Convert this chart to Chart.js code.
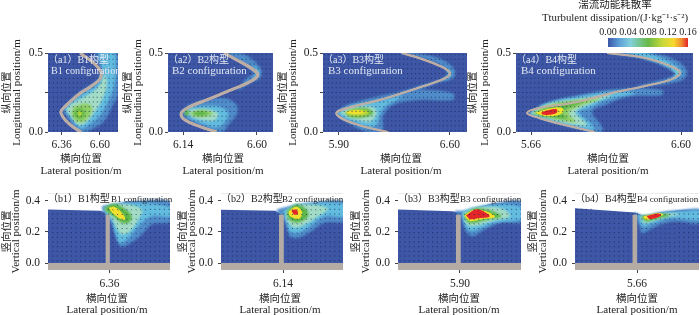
<!DOCTYPE html>
<html><head><meta charset="utf-8">
<script src="https://cdn.jsdelivr.net/npm/chart.js@4/dist/chart.umd.js"></script>
<style>
html,body{margin:0;padding:0;background:#fff;width:700px;height:315px;overflow:hidden}
canvas{position:absolute;filter:blur(0.35px)}
</style></head><body>
<script>
/* ---------- weir plan-form curves (lateral, longitudinal) ---------- */
const a1Curve=[[6.476,.5],[6.523,.466],[6.571,.428],[6.603,.388],[6.609,.367],[6.599,.333],[6.540,.287],[6.476,.245],[6.402,.182],[6.360,.139],[6.356,.118],[6.382,.076],[6.434,.030],[6.483,0]];
const a2Curve=[[6.395,.5],[6.474,.456],[6.556,.409],[6.602,.371],[6.598,.346],[6.536,.308],[6.412,.255],[6.287,.203],[6.173,.156],[6.128,.118],[6.152,.076],[6.246,.034],[6.349,0]];
const a3Curve=[[6.295,.5],[6.411,.466],[6.537,.418],[6.60,.375],[6.568,.340],[6.411,.283],[6.159,.203],[5.969,.156],[5.885,.122],[5.927,.080],[6.075,.030],[6.211,0]];
const a4Curve=[[6.136,.5],[6.374,.468],[6.543,.413],[6.594,.375],[6.543,.335],[6.374,.291],[6.168,.247],[5.917,.184],[5.710,.152],[5.635,.120],[5.710,.089],[5.873,.044],[6.061,0]];

/* ---------- dissipation contours, plan views ---------- */
const a1L1=[[6.567,.5],[6.715,.5],[6.715,.245],[6.677,.160],[6.624,.065],[6.561,.023],[6.519,0],[6.466,0],[6.382,.107],[6.371,.139],[6.392,.181],[6.487,.266],[6.572,.319],[6.603,.382],[6.582,.456],[6.567,.5]];
const a1L2=[[6.593,.5],[6.688,.5],[6.698,.392],[6.688,.287],[6.645,.181],[6.593,.097],[6.529,.044],[6.477,.023],[6.403,.107],[6.382,.139],[6.403,.171],[6.498,.245],[6.582,.297],[6.618,.371],[6.603,.445],[6.593,.5]];
const a1L3=[[6.631,.371],[6.645,.308],[6.614,.203],[6.561,.118],[6.519,.065],[6.466,.044],[6.413,.107],[6.392,.139],[6.413,.171],[6.508,.224],[6.593,.287],[6.631,.371]];
const a1L4=[[6.434,.160],[6.508,.181],[6.550,.160],[6.540,.107],[6.498,.065],[6.455,.065],[6.424,.107],[6.434,.160]];
const a1L5=[[6.445,.139],[6.477,.150],[6.504,.129],[6.498,.097],[6.466,.086],[6.441,.107],[6.445,.139]];
const a1L6=[[6.460,.129],[6.483,.129],[6.487,.107],[6.466,.101],[6.460,.129]];

const a2Top1=[[6.390,.5],[6.494,.5],[6.577,.456],[6.628,.392],[6.618,.340],[6.556,.308],[6.483,.266],[6.535,.340],[6.577,.371],[6.504,.435],[6.390,.5]];
const a2Top2=[[6.570,.424],[6.614,.388],[6.603,.350],[6.570,.340],[6.591,.367],[6.570,.424]];
const a2L1=[[6.132,.129],[6.173,.171],[6.276,.203],[6.401,.213],[6.473,.171],[6.473,.107],[6.421,.044],[6.390,0],[6.328,0],[6.214,.055],[6.152,.086],[6.132,.129]];
const a2L2=[[6.148,.129],[6.183,.156],[6.276,.164],[6.370,.160],[6.421,.118],[6.401,.065],[6.349,.029],[6.266,.051],[6.183,.086],[6.148,.129]];
const a2L3=[[6.156,.129],[6.194,.143],[6.297,.143],[6.359,.118],[6.339,.076],[6.276,.072],[6.194,.097],[6.156,.129]];
const a2L4=[[6.183,.122],[6.256,.139],[6.328,.118],[6.276,.097],[6.204,.101],[6.183,.122]];
const a2L5=[[6.204,.122],[6.256,.131],[6.297,.116],[6.245,.105],[6.210,.110],[6.204,.122]];
const a2Spot=[[6.152,.139],[6.173,.139],[6.173,.107],[6.152,.107],[6.152,.139]];

const a3Top1=[[6.263,.5],[6.389,.5],[6.557,.456],[6.631,.392],[6.620,.340],[6.515,.308],[6.410,.266],[6.274,.245],[6.389,.287],[6.526,.329],[6.589,.371],[6.515,.435],[6.389,.477],[6.263,.5]];
const a3Top2=[[6.557,.414],[6.610,.375],[6.589,.340],[6.557,.333],[6.589,.367],[6.557,.414]];
const a3L1=[[5.881,.118],[5.927,.160],[6.053,.203],[6.242,.245],[6.410,.266],[6.620,.245],[6.620,.203],[6.410,.203],[6.242,.171],[6.179,.097],[6.179,.023],[6.148,0],[6.074,0],[5.948,.065],[5.881,.118]];
const a3L2=[[5.889,.118],[5.938,.156],[6.053,.186],[6.179,.203],[6.305,.234],[6.263,.203],[6.190,.160],[6.158,.107],[6.137,.044],[6.095,.029],[5.990,.065],[5.927,.086],[5.889,.118]];
const a3L3=[[5.910,.122],[5.959,.150],[6.074,.164],[6.127,.150],[6.137,.107],[6.095,.065],[6.011,.076],[5.948,.097],[5.910,.122]];
const a3L4=[[5.938,.122],[5.980,.143],[6.074,.150],[6.116,.122],[6.074,.097],[5.980,.093],[5.938,.122]];
const a3L5=[[5.944,.127],[5.990,.139],[6.064,.139],[6.095,.122],[6.053,.103],[5.969,.105],[5.944,.127]];
const a3L6=[[5.948,.129],[6.001,.137],[6.053,.133],[6.049,.118],[5.990,.114],[5.952,.118],[5.948,.129]];

const a4Top1=[[6.137,.5],[6.419,.5],[6.586,.445],[6.638,.382],[6.607,.329],[6.461,.297],[6.314,.287],[6.471,.329],[6.565,.361],[6.502,.414],[6.335,.466],[6.137,.5]];
const a4Top2=[[6.252,.5],[6.377,.5],[6.544,.435],[6.607,.376],[6.565,.340],[6.502,.325],[6.565,.367],[6.482,.424],[6.356,.473],[6.252,.5]];
const a4Top3=[[6.523,.409],[6.586,.376],[6.555,.350],[6.576,.376],[6.523,.409]];
const a4L1=[[5.646,.118],[5.750,.181],[5.959,.234],[6.231,.276],[6.482,.266],[6.482,.234],[6.273,.224],[6.126,.171],[6.043,.129],[6.105,.034],[6.105,0],[6.022,0],[5.792,.065],[5.646,.118]];
const a4L2=[[5.646,.118],[5.750,.181],[5.959,.224],[6.168,.255],[6.314,.245],[6.126,.203],[6.022,.150],[5.959,.129],[6.043,.044],[6.053,.013],[5.959,.029],[5.750,.076],[5.646,.118]];
const a4L3=[[5.656,.118],[5.771,.177],[5.980,.213],[6.168,.234],[6.064,.192],[5.949,.139],[5.938,.118],[6.011,.044],[5.938,.044],[5.771,.086],[5.656,.118]];
const a4L4=[[5.666,.118],[5.771,.171],[5.959,.203],[6.095,.213],[5.949,.156],[5.896,.118],[5.938,.065],[5.855,.072],[5.750,.097],[5.666,.118]];
const a4L5=[[5.687,.118],[5.781,.160],[5.938,.192],[5.980,.186],[5.886,.150],[5.855,.118],[5.886,.086],[5.802,.091],[5.729,.101],[5.687,.118]];
const a4L6=[[5.687,.122],[5.750,.143],[5.844,.156],[5.865,.135],[5.835,.107],[5.750,.101],[5.687,.122]];
const a4L7=[[5.725,.124],[5.771,.139],[5.823,.143],[5.817,.118],[5.760,.107],[5.729,.112],[5.725,.124]];

/* ---------- dissipation contours, sections ---------- */
const b1Water=[[5.96,-.01],[5.96,.344],[6.30,.336],[6.335,.325],[6.36,.36],[6.47,.395],[6.76,.395],[6.76,-.01],[5.96,-.01]];
const b1L1=[[6.310,.366],[6.482,.394],[6.76,.394],[6.76,.269],[6.632,.248],[6.568,.183],[6.482,.119],[6.428,.108],[6.396,.183],[6.363,.280],[6.320,.323],[6.310,.366]];
const b1L2=[[6.320,.359],[6.503,.387],[6.76,.355],[6.76,.301],[6.632,.301],[6.546,.237],[6.482,.162],[6.428,.129],[6.400,.183],[6.374,.269],[6.331,.329],[6.320,.359]];
const b1L3=[[6.331,.355],[6.439,.381],[6.568,.344],[6.546,.280],[6.492,.204],[6.439,.183],[6.406,.226],[6.374,.290],[6.342,.323],[6.331,.355]];
const b1L4=[[6.327,.355],[6.385,.381],[6.449,.355],[6.503,.301],[6.482,.258],[6.439,.258],[6.385,.301],[6.342,.329],[6.327,.355]];
const b1L5=[[6.353,.355],[6.396,.359],[6.449,.312],[6.460,.280],[6.428,.284],[6.385,.316],[6.353,.355]];

const b2Water=[[5.73,-.01],[5.73,.342],[6.09,.336],[6.13,.315],[6.165,.34],[6.237,.38],[6.54,.394],[6.54,-.01],[5.73,-.01]];
const b2L1=[[6.097,.344],[6.237,.376],[6.54,.394],[6.54,.269],[6.409,.258],[6.323,.204],[6.237,.161],[6.183,.172],[6.162,.237],[6.140,.290],[6.108,.323],[6.097,.344]];
const b2L2=[[6.140,.333],[6.226,.376],[6.54,.376],[6.54,.301],[6.409,.301],[6.312,.237],[6.237,.194],[6.183,.204],[6.162,.258],[6.140,.333]];
const b2L3=[[6.162,.333],[6.237,.376],[6.431,.351],[6.366,.301],[6.302,.258],[6.226,.226],[6.183,.248],[6.162,.290],[6.162,.333]];
const b2L4=[[6.168,.338],[6.226,.376],[6.291,.344],[6.302,.301],[6.248,.263],[6.194,.269],[6.168,.301],[6.168,.338]];
const b2L5=[[6.177,.333],[6.226,.361],[6.263,.329],[6.248,.286],[6.205,.290],[6.179,.308],[6.177,.333]];
const b2L6=[[6.194,.338],[6.226,.342],[6.237,.316],[6.211,.312],[6.194,.338]];

const b3Water=[[5.49,-.01],[5.49,.344],[5.85,.332],[5.90,.325],[5.95,.335],[6.02,.36],[6.105,.381],[6.30,.394],[6.30,-.01],[5.49,-.01]];
const b3L1=[[5.868,.338],[5.943,.338],[6.105,.381],[6.30,.394],[6.30,.265],[6.169,.258],[6.062,.215],[5.986,.172],[5.943,.194],[5.922,.248],[5.911,.290],[5.879,.316],[5.868,.338]];
const b3L2=[[5.911,.329],[5.986,.359],[6.191,.376],[6.30,.351],[6.30,.286],[6.126,.258],[6.040,.226],[5.976,.204],[5.943,.226],[5.922,.269],[5.911,.329]];
const b3L3=[[5.922,.316],[5.997,.355],[6.169,.351],[6.223,.301],[6.105,.269],[6.019,.243],[5.965,.237],[5.937,.258],[5.922,.316]];
const b3L4=[[5.928,.312],[5.997,.351],[6.094,.338],[6.169,.301],[6.083,.280],[5.997,.258],[5.958,.258],[5.937,.280],[5.928,.312]];
const b3L5=[[5.928,.308],[5.997,.344],[6.094,.323],[6.126,.295],[6.040,.280],[5.965,.269],[5.943,.286],[5.928,.308]];
const b3L6=[[5.939,.305],[6.008,.345],[6.085,.312],[6.089,.296],[6.019,.288],[5.965,.282],[5.939,.305]];

const b4Water=[[5.25,-.01],[5.25,.353],[5.60,.328],[5.65,.325],[5.70,.302],[5.808,.325],[5.958,.342],[6.07,.342],[6.07,-.01],[5.25,-.01]];
const b4L1=[[5.646,.327],[5.700,.306],[5.808,.327],[5.958,.342],[6.07,.342],[6.07,.256],[5.915,.267],[5.808,.246],[5.722,.202],[5.689,.192],[5.674,.246],[5.646,.299],[5.646,.327]];
const b4L2=[[5.668,.314],[5.711,.299],[5.808,.321],[5.958,.332],[6.07,.332],[6.07,.278],[5.872,.288],[5.765,.256],[5.711,.235],[5.683,.246],[5.668,.314]];
const b4L3=[[5.683,.306],[5.722,.299],[5.818,.316],[5.937,.314],[5.851,.295],[5.754,.267],[5.711,.256],[5.689,.278],[5.683,.306]];
const b4L4=[[5.689,.306],[5.722,.306],[5.829,.316],[5.872,.306],[5.786,.284],[5.722,.267],[5.696,.284],[5.689,.306]];
const b4L5=[[5.700,.299],[5.797,.321],[5.829,.310],[5.754,.284],[5.717,.278],[5.700,.299]];
const b4L6=[[5.722,.302],[5.797,.318],[5.815,.304],[5.743,.282],[5.722,.302]];

/* ---------- velocity vector sampling stations ---------- */
const vecXsA=[5.58,5.605,5.63,5.655,5.68,5.705,5.73,5.755,5.78,5.805,5.83,5.855,5.88,5.905,5.93,5.955,5.98,6.005,6.03,6.055,6.08,6.105,6.13,6.155,6.18,6.205,6.23,6.255,6.28,6.305,6.33,6.355,6.38,6.405,6.43,6.455,6.48,6.505,6.53,6.555,6.58,6.605,6.63,6.655,6.68,6.705];
const vecYsA=[.01,.04,.07,.10,.13,.16,.19,.22,.25,.28,.31,.34,.37,.40,.43,.46,.49];
const vecXsB=[5.27,5.30,5.33,5.36,5.39,5.42,5.45,5.48,5.51,5.54,5.57,5.60,5.63,5.66,5.69,5.72,5.75,5.78,5.81,5.84,5.87,5.90,5.93,5.96,5.99,6.02,6.05,6.08,6.11,6.14,6.17,6.20,6.23,6.26,6.29,6.32,6.35,6.38,6.41,6.44,6.47,6.50,6.53,6.56,6.59,6.62,6.65,6.68,6.71,6.74];
const vecYsB=[.015,.045,.075,.105,.135,.165,.195,.225,.255,.285,.315,.345,.375];

/* ---------- axes and labels ---------- */
const aYTicks=[0,.25,.5];
const aYLabelled=[0,.5];
const bYTicks=[0,.2,.4];
const barTicks=[0,.04,.08,.12,.16];
const yTitleA=['纵向位置','Longitudinal position/m'];
const yTitleB=['竖向位置','Vertical position/m'];
const xTitle=['横向位置','Lateral position/m'];
const barTitle=['湍流动能耗散率','Tturbulent dissipation/(J·kg⁻¹·s⁻²)'];
const barRange=[[0,.16]];

/* ---------- styles ---------- */
const SERIF="'Liberation Serif','Noto Sans CJK SC',serif";
const INK='#222';
const BG='#3d57a6',BLUE='#4f8cc9',CYAN='#62bcdf',PALE='#a3dcc6',LIME='#8fcf68',GREEN='#5cb548',OLIVE='#c4da3a',YELLOW='#f2e02e',RED='#e2262a';
const STONE='#b5aba5';

const panelsA=[
 {label:'（a1）B1构型',sub:'B1 configuration',subDx:3,subSize:10.2,cLeft:0,pLeft:48,pRight:118,xMin:6.274,xMax:6.714,xT:[6.36,6.60],curve:a1Curve,yT:[7,17],xC:81,cw:[3,2],
  heat:[[a1L1,BLUE],[a1L2,CYAN],[a1L3,PALE],[a1L4,LIME],[a1L5,GREEN],[a1L6,OLIVE]]},
 {label:'（a2）B2构型',sub:'B2 configuration',subDx:4,subSize:11,cLeft:120,pLeft:168,pRight:273,xMin:6.046,xMax:6.70,xT:[6.14,6.60],curve:a2Curve,yT:[128,138],xC:223,cw:[3,2],
  heat:[[a2Top1,BLUE],[a2Top2,CYAN],[a2L1,BLUE],[a2L2,CYAN],[a2L3,PALE],[a2L4,LIME],[a2L5,GREEN],[a2Spot,GREEN]]},
 {label:'（a3）B3构型',sub:'B3 configuration',subDx:5,subSize:11,cLeft:275,pLeft:323,pRight:467,xMin:5.80,xMax:6.708,xT:[5.90,6.60],curve:a3Curve,yT:[283,293],xC:401,cw:[2.2,1.4],
  heat:[[a3Top1,BLUE],[a3Top2,CYAN],[a3L1,BLUE],[a3L2,CYAN],[a3L3,PALE],[a3L4,GREEN],[a3L5,OLIVE],[a3L6,YELLOW]]},
 {label:'（a4）B4构型',sub:'B4 configuration',subDx:5,subSize:11,cLeft:465,pLeft:516,pRight:693,xMin:5.566,xMax:6.675,xT:[5.66,6.60],curve:a4Curve,yT:[473,485],xC:608,cw:[2,1.3],
  heat:[[a4Top1,BLUE],[a4Top2,CYAN],[a4Top3,PALE],[a4L1,BLUE],[a4L2,CYAN],[a4L3,PALE],[a4L4,LIME],[a4L5,GREEN],[a4L6,YELLOW],[a4L7,RED]]}
];
const panelsB=[
 {label:'（b1）B1构型',sub:'B1 configuration',subDx:63,cLeft:0,pLeft:48,pRight:170,xMin:5.963,xMax:6.75,xT:[6.36],wall:[6.335,6.362],water:b1Water,yT:[7,16],xC:107,
  heat:[[b1L1,BLUE],[b1L2,CYAN],[b1L3,PALE],[b1L4,GREEN],[b1L5,YELLOW]]},
 {label:'（b2）B2构型',sub:'B2 configuration',subDx:61,cLeft:175,pLeft:221,pRight:343,xMin:5.74,xMax:6.527,xT:[6.14],wall:[6.114,6.145],water:b2Water,yT:[183,192],xC:280,
  heat:[[b2L1,BLUE],[b2L2,CYAN],[b2L3,PALE],[b2L4,GREEN],[b2L5,YELLOW],[b2L6,RED]]},
 {label:'（b3）B3构型',sub:'B3 configuration',subDx:62,cLeft:350,pLeft:398,pRight:521,xMin:5.50,xMax:6.294,xT:[5.90],wall:[5.874,5.905],water:b3Water,yT:[356,366],xC:459,
  heat:[[b3L1,BLUE],[b3L2,CYAN],[b3L3,PALE],[b3L4,GREEN],[b3L5,YELLOW],[b3L6,RED]]},
 {label:'（b4）B4构型',sub:'B4 configuration',subDx:62,cLeft:525,pLeft:575,pRight:699,xMin:5.26,xMax:6.06,xT:[5.66],wall:[5.631,5.661],water:b4Water,yT:[533,543],xC:637,
  heat:[[b4L1,BLUE],[b4L2,CYAN],[b4L3,PALE],[b4L4,GREEN],[b4L5,YELLOW],[b4L6,RED]]}
];

/* ---------- helpers ---------- */
const pts=a=>a.map(([x,y])=>({x,y}));
function blurOf(c){return c===RED||c===YELLOW?.55:1.3;}
function poly(a,color,opts){return Object.assign({data:pts(a),showLine:true,fill:'shape',backgroundColor:color,borderColor:'transparent',borderWidth:0,pointRadius:0,tension:.35},opts||{});}
function inside(p,[x,y]){let c=false;for(let i=0,j=p.length-1;i<p.length;j=i++){const[xi,yi]=p[i],[xj,yj]=p[j];if((yi>y)!==(yj>y)&&x<(xj-xi)*(y-yi)/(yj-yi)+xi)c=!c;}return c;}
const cross=(xs,ys,keep)=>{const o=[];for(const y of ys)for(const x of xs)if(keep(x,y))o.push({x,y});return o;};

const filterFor=d=>d&&d.heat?'blur('+d.heat+'px)':'none';
const heatPlugin={id:'heatBlur',
 beforeDatasetsDraw(c){const d=c.data.datasets;c.ctx.filter=filterFor(d[d.length-1]);},
 afterDatasetDraw(c,{index}){c.ctx.filter=filterFor(c.data.datasets[index-1]);},
 afterDatasetsDraw(c){c.ctx.filter='none';}};
const textPlugin={id:'panelText',afterDraw(c){const t=c.options.plugins.panelText.items||[];const x=c.ctx;
  for(const i of t){x.save();x.textBaseline='middle';x.font=i.size+'px '+SERIF;x.fillStyle=i.color;x.textAlign=i.align||'left';x.translate(c.chartArea.left+i.dx,c.chartArea.top+i.dy);if(i.rot)x.rotate(-Math.PI/2);x.fillText(i.text,0,0);x.restore();}}};

function mount(left,top,w,h){const c=document.createElement('canvas');c.width=w;c.height=h;c.style.left=left+'px';c.style.top=top+'px';c.style.width=w+'px';c.style.height=h+'px';document.body.appendChild(c);return c;}

function axisX(p,h,pad){return{type:'linear',min:p.xMin,max:p.xMax,afterBuildTicks:s=>{s.ticks=p.xT.map(v=>({value:v}));},
  ticks:{color:INK,font:{family:SERIF,size:11.5},padding:pad,maxRotation:0,autoSkip:false,callback:v=>v.toFixed(2)},
  grid:{drawOnChartArea:false,drawTicks:true,tickLength:3,color:'#444'},border:{display:false},afterFit:s=>{s.height=h;}};}
function axisY(p,min,max,tks,fmt,pad){return{type:'linear',min,max,afterBuildTicks:s=>{s.ticks=tks.map(v=>({value:v}));},
  ticks:{color:INK,font:{family:SERIF,size:11.5},padding:pad,autoSkip:false,callback:fmt},
  grid:{drawOnChartArea:false,drawTicks:true,tickLength:3,color:'#444'},border:{display:false},afterFit:s=>{s.width=p.pLeft-p.cLeft;}};}

function axisTexts(p,title,pTop,pBot,xLines){
 const mid=(pBot-pTop)/2;
 return[
  {text:title[0],dx:p.yT[0]-p.pLeft,dy:mid,size:10.5,color:INK,align:'center',rot:true},
  {text:title[1],dx:p.yT[1]-p.pLeft,dy:mid,size:11,color:INK,align:'center',rot:true},
  {text:xTitle[0],dx:p.xC-p.pLeft,dy:xLines[0]-pTop,size:10.5,color:INK,align:'center'},
  {text:xTitle[1],dx:p.xC-p.pLeft,dy:xLines[1]-pTop,size:11,color:INK,align:'center'}
 ];
}

function build(p,datasets,yAxis,top,bottom,pTop,pBot,xPad,items){
 const margin=8,w=p.pRight-p.cLeft+margin,h=bottom-top;
 const canvas=mount(p.cLeft,top,w,h);
 new Chart(canvas,{type:'scatter',data:{datasets:datasets.reverse()},plugins:[heatPlugin,textPlugin],options:{
  responsive:false,animation:false,devicePixelRatio:1,
  layout:{autoPadding:false,padding:{top:pTop-top,right:margin,left:0,bottom:0}},
  plugins:{legend:{display:false},tooltip:{enabled:false},panelText:{items}},
  elements:{line:{capBezierPoints:false}},
  scales:{x:axisX(p,bottom-pBot,xPad),y:yAxis}
 }});
}

/* ---------- plan views ---------- */
for(const p of panelsA){
 const ds=[];
 ds.push(poly([[p.xMin,0],[p.xMin,.5],[p.xMax,.5],[p.xMax,0],[p.xMin,0]],BG,{tension:0}));
 for(const[a,c]of p.heat)ds.push(poly(a,c,{heat:blurOf(c)}));
 ds.push({data:cross(vecXsA,vecYsA,()=>true),pointStyle:'dash',pointRadius:1.1,pointBorderWidth:.9,borderColor:'rgba(22,28,70,.75)',backgroundColor:'rgba(22,28,70,.75)'});
 ds.push({data:pts(p.curve),showLine:true,borderColor:'#d6b09c',borderWidth:p.cw[0],pointRadius:0,tension:.4,fill:false});
 ds.push({data:pts(p.curve),showLine:true,borderColor:'#b7aea8',borderWidth:p.cw[1],pointRadius:0,tension:.4,fill:false});
 build(p,ds,axisY(p,0,.5,aYTicks,v=>aYLabelled.includes(v)?v.toFixed(1):'',2),30,180,53,132,3,
  [{text:p.label,dx:0,dy:7,size:10,color:'#e4e9f2'},{text:p.sub,dx:p.subDx,dy:18,size:p.subSize,color:'#e4e9f2'},...axisTexts(p,yTitleA,53,132,[159,171])]);
}

/* ---------- sections ---------- */
for(const p of panelsB){
 const ds=[];
 ds.push({data:pts([[p.xMin,.45],[p.xMax,.45]]),showLine:true,borderColor:'#d9d9d9',borderWidth:1,pointRadius:0});
 ds.push(poly(p.water,BG,{tension:0}));
 for(const[a,c]of p.heat)ds.push(poly(a,c,{heat:blurOf(c)}));
 ds.push({data:cross(vecXsB,vecYsB,(x,y)=>inside(p.water,[x,y])&&!(x>p.wall[0]&&x<p.wall[1]&&y<.31)),pointStyle:'dash',pointRadius:1.1,pointBorderWidth:.9,
   pointRotation:c=>{const r=c.raw;return r&&r.x>p.wall[1]&&r.x<p.wall[1]+.25&&r.y>.12?65:0;},borderColor:'rgba(22,28,70,.8)',backgroundColor:'rgba(22,28,70,.8)'});
 ds.push(poly([[p.xMin,-.045],[p.xMin,0],[p.xMax,0],[p.xMax,-.045],[p.xMin,-.045]],STONE,{tension:0}));
 ds.push(poly([[p.wall[0],0],[p.wall[0],.31],[p.wall[1],.31],[p.wall[1],0],[p.wall[0],0]],STONE,{tension:0}));
 build(p,ds,axisY(p,-.045,.45,bYTicks,v=>v.toFixed(1),5),175,315,193,270,4,
  [{text:p.label,dx:0,dy:6,size:10,color:INK},{text:p.sub,dx:p.subDx,dy:7,size:9,color:INK},...axisTexts(p,yTitleB,193,270,[299,310])]);
}

/* ---------- colour bar ---------- */
{
 const canvas=mount(530,0,170,50);
 new Chart(canvas,{type:'bar',data:{labels:[''],datasets:[{data:barRange,barPercentage:1,categoryPercentage:1,borderSkipped:false,
   backgroundColor:c=>{const a=c.chart.chartArea;if(!a)return BG;const g=c.chart.ctx.createLinearGradient(a.left,0,a.right,0);
     [[0,'#3a55a5'],[.14,'#5d9fd8'],[.28,'#82d0dc'],[.5,'#69b848'],[.68,'#c6d93a'],[.82,'#f6d92e'],[.92,'#f08a30'],[1,'#e2262a']].forEach(s=>g.addColorStop(s[0],s[1]));return g;}}]},
  plugins:[textPlugin],options:{indexAxis:'y',responsive:false,animation:false,devicePixelRatio:1,
  layout:{autoPadding:false,padding:{left:78,right:12,top:0,bottom:3}},
  plugins:{legend:{display:false},tooltip:{enabled:false},
    panelText:{items:[{text:barTitle[0],dx:7,dy:-33,size:10.5,color:INK,align:'center'},{text:barTitle[1],dx:7,dy:-20,size:10.8,color:INK,align:'center'}]}},
  scales:{x:{position:'top',type:'linear',min:0,max:.16,afterBuildTicks:s=>{s.ticks=barTicks.map(v=>({value:v}));},afterFit:s=>{s.height=38;},
     ticks:{color:INK,font:{family:SERIF,size:10},padding:0,maxRotation:0,autoSkip:false,callback:v=>v.toFixed(2)},grid:{display:false,drawTicks:false},border:{display:false}},
    y:{display:false}}
 }});
}
</script>
</body></html>
